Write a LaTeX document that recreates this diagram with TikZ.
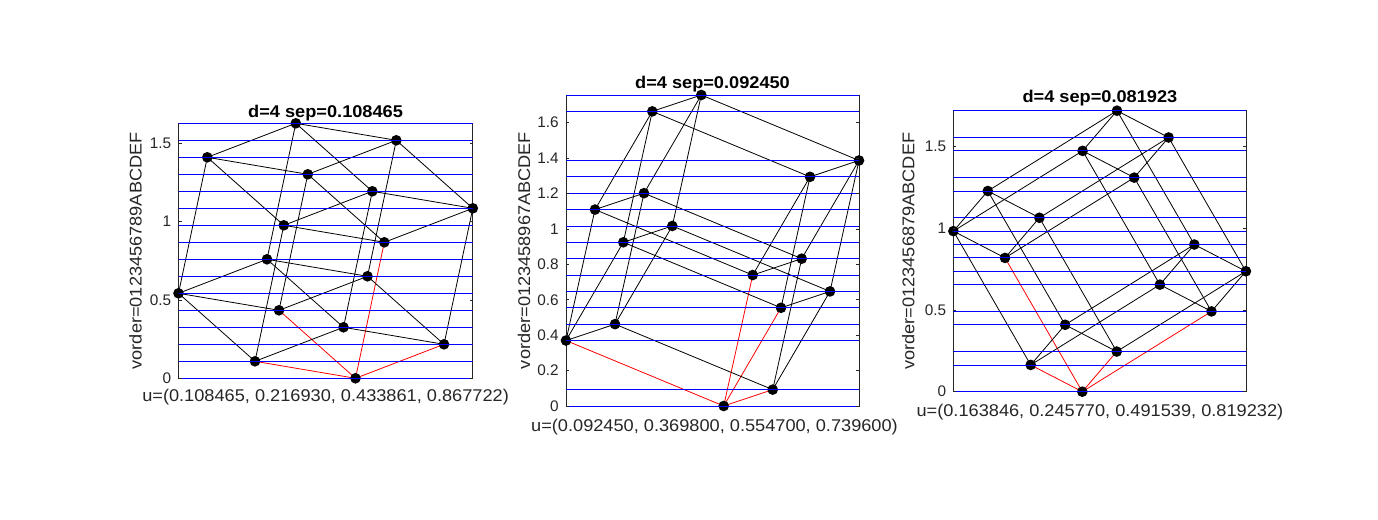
\documentclass[tikz,border=0pt]{standalone}
\usepackage{fontspec}
\setmainfont{Liberation Sans}
\newfontfamily\labfont[FakeStretch=1.07]{Liberation Sans}
\tikzset{
  edge/.style={black, line width=0.6pt},
  redge/.style={red, line width=0.6pt},
  hline/.style={blue, line width=0.6pt},
  axframe/.style={draw=black!85, line width=0.6pt},
  tickmark/.style={black!85, line width=0.6pt},
  dot/.style={circle, fill=black, inner sep=0pt, minimum size=8pt},
  ticklab/.style={anchor=east, inner sep=0pt, text=black!85, font=\fontsize{11.5}{13}\selectfont},
  axlab/.style={inner sep=0pt, text=black!85, font=\labfont\fontsize{12.75}{14}\selectfont},
  ttl/.style={anchor=base, inner sep=0pt, text=black, font=\labfont\bfseries\fontsize{12.75}{14}\selectfont},
}
% #1 prefix, #2 left x, #3 right x
\newcommand\hcube[3]{%
  \foreach \n in {0,...,15}{%
    \pgfmathtruncatemacro\qa{mod(\n,2)}%
    \pgfmathtruncatemacro\qb{mod(floor(\n/2),2)}%
    \pgfmathtruncatemacro\qc{mod(floor(\n/4),2)}%
    \pgfmathtruncatemacro\qd{floor(\n/8)}%
    \pgfmathsetmacro\px{\Ox+\qa*(\VAx)+\qb*(\VBx)+\qc*(\VCx)+\qd*(\VDx)}%
    \pgfmathsetmacro\py{\Oy+\qa*(\VAy)+\qb*(\VBy)+\qc*(\VCy)+\qd*(\VDy)}%
    \coordinate (#1\n) at (\px,\py);
  }
  \coordinate (#1tl) at (#2,0);
  \coordinate (#1br) at (#3,0);
  \draw[axframe] (#1tl |- #115) rectangle (#1br |- #10);
  \foreach \n in {0,...,15}{%
    \foreach \k in {1,2,4,8}{%
      \pgfmathtruncatemacro\bitv{mod(floor(\n/\k),2)}%
      \ifnum\bitv=0
        \pgfmathtruncatemacro\mm{\n+\k}%
        \ifnum\n=0
          \draw[redge] (#1\n) -- (#1\mm);
        \else
          \draw[edge] (#1\n) -- (#1\mm);
        \fi
      \fi
    }
  }
  \foreach \n in {0,...,15}{\node[dot] (#1d\n) at (#1\n) {};}
  \foreach \n in {0,...,15}{\draw[hline] (#1\n -| #1tl) -- (#1\n -| #1br);}
}
\begin{document}
\begin{tikzpicture}[x=0.75pt,y=-0.75pt]
\useasboundingbox (0,0) rectangle (1378,520);
% ---------- plot 1
\def\Ox{355.5}\def\Oy{378.3}
\def\VAx{-100.5}\def\VAy{-17.0}
\def\VBx{88.5}\def\VBy{-34.0}
\def\VCx{-76.5}\def\VCy{-68.0}
\def\VDx{28.8}\def\VDy{-136.0}
\hcube{a}{178.5}{472.8}
\foreach \t/\lab in {0/0,0.5/0.5,1/1,1.5/1.5}{
  \pgfmathsetmacro\ty{378.3-\t*156.7}
  \draw[tickmark] (178.5,\ty) -- (181.5,\ty);
  \draw[tickmark] (472.8,\ty) -- (469.8,\ty);
  \node[ticklab] (al\lab) at (171.5,\ty) {\lab};
}
\node[ttl] (at) at (325.6,118) {d=4 sep=0.108465};
\node[axlab, anchor=base] (ax) at (325.6,401) {u=(0.108465, 0.216930, 0.433861, 0.867722)};
\node[axlab, rotate=90] (ay) at (135.5,250.8) {vorder=0123456789ABCDEF};
% ---------- plot 2
\def\Ox{723.7}\def\Oy{406}
\def\VAx{49}\def\VAy{-16.37}
\def\VBx{-157.7}\def\VBy{-65.47}
\def\VCx{57.3}\def\VCy{-98.21}
\def\VDx{29}\def\VDy{-130.95}
\hcube{b}{566}{859}
\foreach \t/\lab in {0/0,0.2/0.2,0.4/0.4,0.6/0.6,0.8/0.8,1/1,1.2/1.2,1.4/1.4,1.6/1.6}{
  \pgfmathsetmacro\ty{406-\t*177.05}
  \draw[tickmark] (566,\ty) -- (569,\ty);
  \draw[tickmark] (859,\ty) -- (856,\ty);
  \node[ticklab] (bl\lab) at (559,\ty) {\lab};
}
\node[ttl] (bt) at (712.5,88.5) {d=4 sep=0.092450};
\node[axlab, anchor=base] (bx) at (714.5,431) {u=(0.092450, 0.369800, 0.554700, 0.739600)};
\node[axlab, rotate=90] (by) at (524,250.5) {vorder=0123458967ABCDEF};
% ---------- plot 3
\def\Ox{1082.3}\def\Oy{391.7}
\def\VAx{-51.6}\def\VAy{-26.76}
\def\VBx{34.4}\def\VBy{-40.14}
\def\VCx{129.2}\def\VCy{-80.28}
\def\VDx{-77.3}\def\VDy{-133.8}
\hcube{c}{953.4}{1246.4}
\foreach \t/\lab in {0/0,0.5/0.5,1/1,1.5/1.5}{
  \pgfmathsetmacro\ty{391.7-\t*163.3}
  \draw[tickmark] (953.4,\ty) -- (956.4,\ty);
  \draw[tickmark] (1246.4,\ty) -- (1243.4,\ty);
  \node[ticklab] (cl\lab) at (946.4,\ty) {\lab};
}
\node[ttl] (ct) at (1099.9,103) {d=4 sep=0.081923};
\node[axlab, anchor=base] (cx) at (1099.9,416) {u=(0.163846, 0.245770, 0.491539, 0.819232)};
\node[axlab, rotate=90] (cy) at (908.3,251.2) {vorder=0123456879ABCDEF};
\end{tikzpicture}
\end{document}
